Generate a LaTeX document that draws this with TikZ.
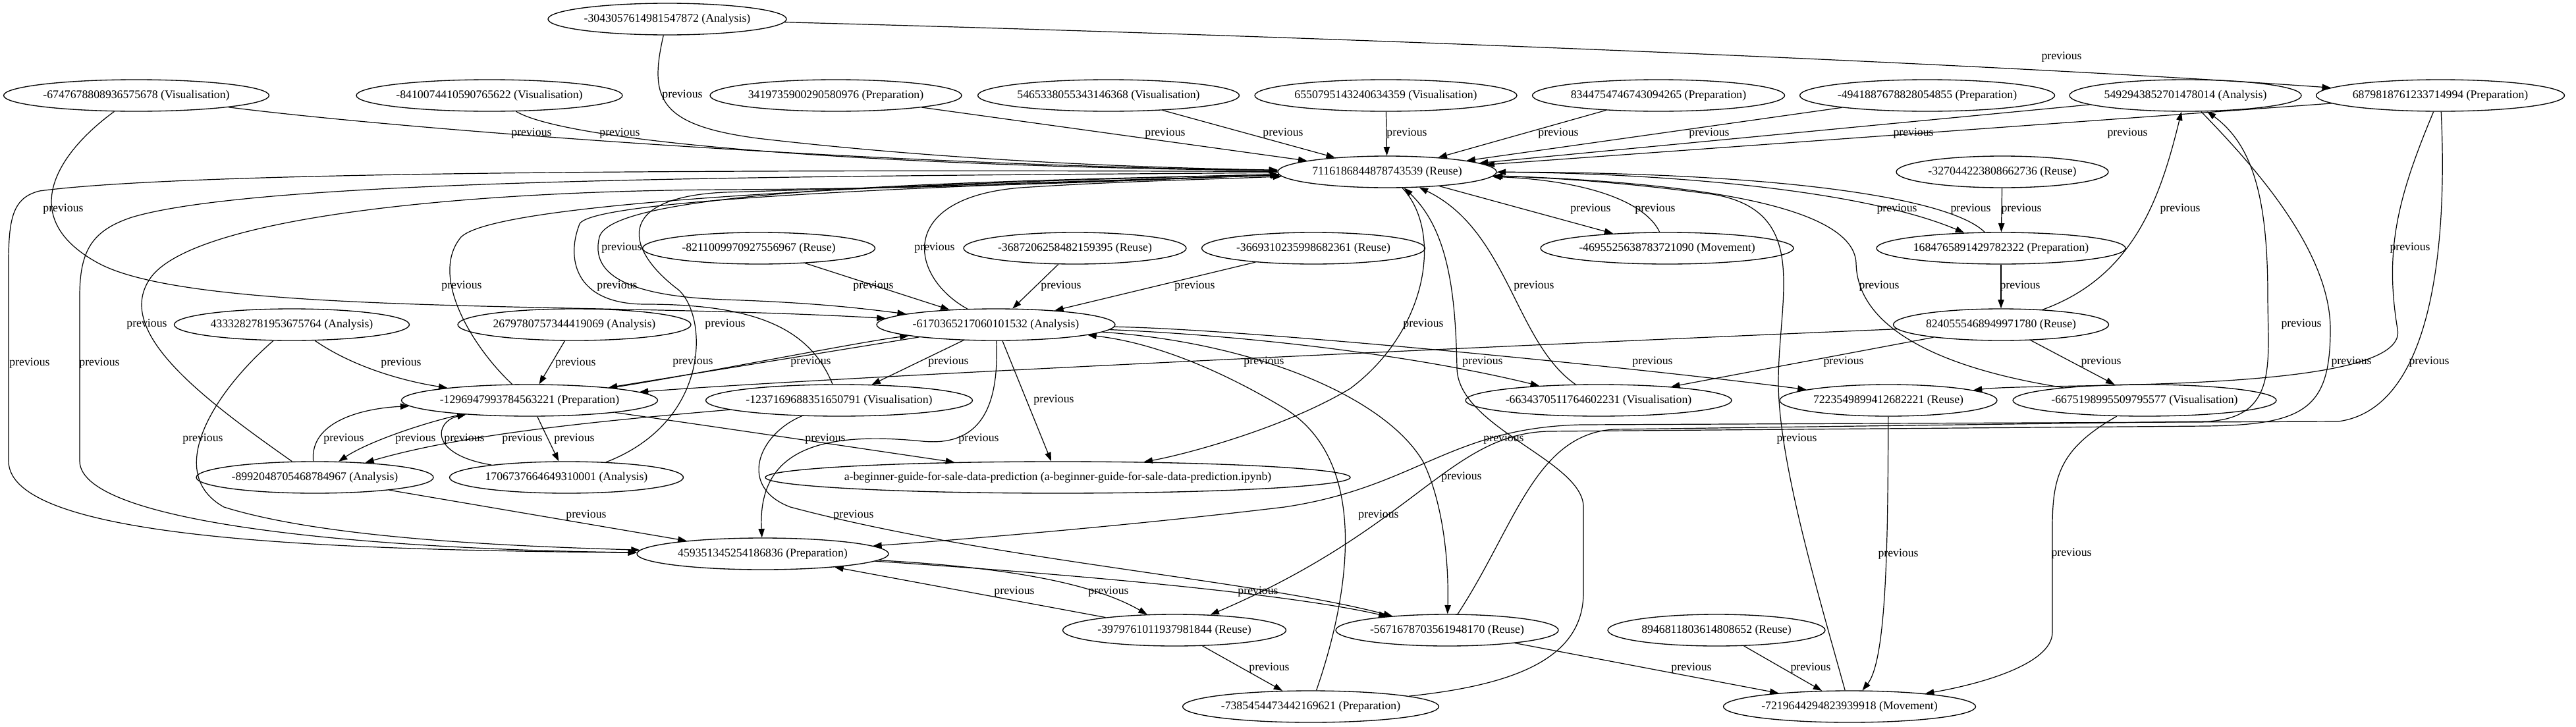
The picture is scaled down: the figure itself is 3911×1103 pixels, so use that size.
\documentclass[tikz,border=0pt]{standalone}
\usepackage{fontspec}
\setmainfont{Liberation Serif}
\usetikzlibrary{shapes.geometric,arrows.meta}
\newcommand\gvf{\fontsize{13.3pt}{15pt}\selectfont}
\begin{document}
\begin{tikzpicture}[x=0.75pt,y=-0.75pt,
  nd/.style={ellipse, draw, line width=1pt, inner xsep=-40pt, inner ysep=-8pt, minimum height=36pt, font=\gvf},
  nw/.style={minimum width=#1*0.75pt},
  ed/.style={-{Triangle[length=10pt,width=7pt]}, line width=0.9pt},
  lbl/.style={font=\gvf, inner sep=0pt}]
\useasboundingbox (0,0) rectangle (3911,1103);
% nodes
\node[nd,nw=362] (m3043) at (1013,29) {-3043057614981547872 (Analysis)};
\node[nd,nw=403] (m6747) at (207,145) {-6747678808936575678 (Visualisation)};
\node[nd,nw=404] (m8410) at (743,145) {-8410074410590765622 (Visualisation)};
\node[nd,nw=382] (n3419) at (1269,145) {3419735900290580976 (Preparation)};
\node[nd,nw=397] (n5465) at (1683,145) {5465338055343146368 (Visualisation)};
\node[nd,nw=398] (n6550) at (2104,145) {6550795143240634359 (Visualisation)};
\node[nd,nw=383] (n8344) at (2518,145) {8344754746743094265 (Preparation)};
\node[nd,nw=387] (m4941) at (2926,145) {-4941887678828054855 (Preparation)};
\node[nd,nw=352] (n5492) at (3318,145) {5492943852701478014 (Analysis)};
\node[nd,nw=377] (n6879) at (3705,145) {6879818761233714994 (Preparation)};
\node[nd,nw=332] (n7116) at (2106,261) {7116186844878743539 (Reuse)};
\node[nd,nw=322] (m3270) at (3040,261) {-327044223808662736 (Reuse)};
\node[nd,nw=353] (m8211) at (1152,377) {-8211009970927556967 (Reuse)};
\node[nd,nw=338] (m3687) at (1632,377) {-3687206258482159395 (Reuse)};
\node[nd,nw=339] (m3669) at (1994,377) {-3669310235998682361 (Reuse)};
\node[nd,nw=384] (m4695) at (2531,377) {-4695525638783721090 (Movement)};
\node[nd,nw=378] (n1684) at (3038,377) {1684765891429782322 (Preparation)};
\node[nd,nw=357] (n4333) at (443,493) {4333282781953675764 (Analysis)};
\node[nd,nw=354] (n2679) at (872,493) {2679780757344419069 (Analysis)};
\node[nd,nw=362] (m6170) at (1512,493) {-6170365217060101532 (Analysis)};
\node[nd,nw=327] (n8240) at (3038,493) {8240555468949971780 (Reuse)};
\node[nd,nw=389] (m1296) at (804,608) {-1296947993784563221 (Preparation)};
\node[nd,nw=405] (m1237) at (1274,608) {-1237169688351650791 (Visualisation)};
\node[nd,nw=404] (m6634) at (2427,608) {-6634370511764602231 (Visualisation)};
\node[nd,nw=330] (n7223) at (2867,608) {7223549899412682221 (Reuse)};
\node[nd,nw=400] (m6675) at (3256,608) {-6675198995509795577 (Visualisation)};
\node[nd,nw=360] (m8992) at (478,725) {-8992048705468784967 (Analysis)};
\node[nd,nw=355] (n1706) at (860,725) {1706737664649310001 (Analysis)};
\node[nd,nw=888] (abg) at (1606,725) {a-beginner-guide-for-sale-data-prediction (a-beginner-guide-for-sale-data-prediction.ipynb)};
\node[nd,nw=382] (n4593) at (1158,841) {459351345254186836 (Preparation)};
\node[nd,nw=339] (m3979) at (1783,957) {-3979761011937981844 (Reuse)};
\node[nd,nw=338] (m5671) at (2197,957) {-5671678703561948170 (Reuse)};
\node[nd,nw=330] (n8946) at (2606,957) {8946811803614808652 (Reuse)};
\node[nd,nw=389] (m7385) at (1990,1073) {-7385454473442169621 (Preparation)};
\node[nd,nw=383] (m7219) at (2808,1073) {-7219644294823939918 (Movement)};
% edges
\draw[ed] (m3043) .. controls (985,150) and (1000,190) .. (1150,210) .. controls (1450,245) and (1750,255) .. (n7116);
\draw[ed] (m3043) .. controls (2000,55) and (3000,95) .. (n6879);
\draw[ed] (m6747) .. controls (600,195) and (1300,250) .. (n7116);
\draw[ed] (m8410) .. controls (860,215) and (1300,252) .. (n7116);
\draw[ed] (n3419) -- (n7116);
\draw[ed] (n5465) -- (n7116);
\draw[ed] (n6550) -- (n7116);
\draw[ed] (n8344) -- (n7116);
\draw[ed] (m4941) -- (n7116);
\draw[ed] (n5492) -- (n7116);
\draw[ed] (n6879) -- (n7116);
\draw[ed] (n7116) -- (m4695);
\draw[ed] (m4695) .. controls (2500,310) and (2420,275) .. (n7116);
\draw[ed] (n7116) .. controls (2500,262) and (2820,285) .. (n1684);
\draw[ed] (n1684) .. controls (2960,300) and (2700,262) .. (n7116);
\draw[ed] (m3270) -- (n1684);
\draw[ed] (n1684) -- (n8240);
\draw[ed] (n8240) .. controls (3240,420) and (3280,300) .. (n5492);
\draw[ed] (m6747) .. controls (90,230) and (20,330) .. (150,400) .. controls (300,480) and (900,458) .. (m6170);
\draw[ed] (n7116) .. controls (1500,275) and (930,285) .. (910,360) .. controls (895,420) and (960,450) .. (1100,455) .. controls (1250,460) and (1320,470) .. (m6170);
\draw[ed] (m6170) .. controls (1380,420) and (1360,300) .. (1550,285) .. controls (1700,275) and (1850,272) .. (n7116);
\draw[ed] (m1237) .. controls (1230,500) and (1150,462) .. (980,462) .. controls (870,462) and (860,390) .. (880,340) .. controls (900,300) and (1500,280) .. (n7116);
\draw[ed] (m1296) .. controls (720,530) and (650,420) .. (700,360) .. controls (760,300) and (1500,275) .. (n7116);
\draw[ed] (m8211) -- (m6170);
\draw[ed] (m3687) -- (m6170);
\draw[ed] (m3669) -- (m6170);
\draw[ed] (m6634) .. controls (2300,520) and (2290,350) .. (n7116);
\draw[ed] (m6675) .. controls (2950,560) and (2820,500) .. (2818,400) .. controls (2815,300) and (2500,275) .. (n7116);
\draw[ed] (n6879) .. controls (3640,300) and (3620,380) .. (3640,500) .. controls (3660,600) and (3100,580) .. (n7223);
\draw[ed] (m8992) .. controls (300,600) and (170,500) .. (230,420) .. controls (300,330) and (700,290) .. (1100,288) .. controls (1500,286) and (1800,270) .. (n7116);
\draw[ed] (n1706) .. controls (1080,640) and (1075,480) .. (1030,440) .. controls (950,380) and (930,300) .. (1100,292) .. controls (1500,280) and (1800,270) .. (n7116);
\draw[ed] (n7116) .. controls (2190,350) and (2170,500) .. (2050,590) .. controls (1950,650) and (1800,690) .. (abg);
\draw[ed] (m5671) .. controls (2300,800) and (2330,660) .. (2450,652) -- (3350,640) .. controls (3460,635) and (3443,550) .. (3443,450) .. controls (3443,300) and (3420,220) .. (n5492);
\draw[ed] (n7116) .. controls (1200,258) and (300,258) .. (60,290) .. controls (20,300) and (13,330) .. (13,400) -- (13,700) .. controls (13,820) and (500,835) .. (n4593);
\draw[ed] (n7116) .. controls (1200,268) and (400,270) .. (200,330) .. controls (140,350) and (121,380) .. (121,450) -- (121,700) .. controls (121,800) and (600,835) .. (n4593);
\draw[ed] (n4333) .. controls (540,560) and (620,580) .. (m1296);
\draw[ed] (n2679) -- (m1296);
\draw[ed] (m6170) -- (m1296);
\draw[ed] (m1296) .. controls (1050,570) and (1300,520) .. (m6170);
\draw[ed] (m6170) -- (m1237);
\draw[ed] (n8240) .. controls (2400,520) and (1300,570) .. (m1296);
\draw[ed] (m6170) .. controls (1900,510) and (2150,540) .. (m6634);
\draw[ed] (m6170) .. controls (1900,500) and (2500,560) .. (n7223);
\draw[ed] (n8240) -- (m6634);
\draw[ed] (n8240) -- (m6675);
\draw[ed] (n5492) .. controls (3420,250) and (3538,380) .. (3538,500) .. controls (3538,620) and (3500,645) .. (3350,647) -- (2350,655) .. controls (2200,660) and (2150,800) .. (m3979);
\draw[ed] (n6879) .. controls (3715,350) and (3700,620) .. (3550,640) -- (2400,645) .. controls (2200,650) and (2150,740) .. (1950,770) .. controls (1700,800) and (1450,820) .. (n4593);
\draw[ed] (m6170) -- (abg);
\draw[ed] (n4333) .. controls (320,600) and (250,720) .. (340,770) .. controls (500,820) and (800,830) .. (n4593);
\draw[ed] (m8992) .. controls (470,640) and (550,620) .. (m1296);
\draw[ed] (m1296) .. controls (650,640) and (560,670) .. (m8992);
\draw[ed] (n1706) .. controls (650,690) and (660,640) .. (m1296);
\draw[ed] (m1237) .. controls (900,640) and (700,660) .. (m8992);
\draw[ed] (m1296) -- (n1706);
\draw[ed] (m1296) .. controls (1100,650) and (1300,680) .. (abg);
\draw[ed] (m6170) .. controls (1516,600) and (1500,680) .. (1400,670) .. controls (1250,655) and (1150,680) .. (n4593);
\draw[ed] (m7219) .. controls (2760,900) and (2700,700) .. (2700,580) .. controls (2700,450) and (2750,320) .. (2600,295) .. controls (2450,275) and (2350,270) .. (n7116);
\draw[ed] (m6170) .. controls (1900,520) and (2100,600) .. (2160,700) .. controls (2190,760) and (2200,850) .. (m5671);
\draw[ed] (m8992) -- (n4593);
\draw[ed] (m1237) .. controls (1150,660) and (1120,740) .. (1200,770) .. controls (1500,850) and (1900,880) .. (m5671);
\draw[ed] (m7385) .. controls (2050,900) and (2080,700) .. (1950,620) .. controls (1850,560) and (1750,520) .. (m6170);
\draw[ed] (m7385) .. controls (2300,1040) and (2404,1000) .. (2404,900) -- (2404,770) .. controls (2404,700) and (2215,650) .. (2212,560) .. controls (2210,450) and (2200,350) .. (n7116);
\draw[ed] (n7223) .. controls (2866,800) and (2866,1000) .. (m7219);
\draw[ed] (m6675) .. controls (3130,680) and (3116,720) .. (3116,800) -- (3116,960) .. controls (3116,1010) and (3000,1040) .. (m7219);
\draw[ed] (m3979) -- (n4593);
\draw[ed] (n4593) .. controls (1500,860) and (1650,880) .. (m3979);
\draw[ed] (n4593) .. controls (1600,870) and (1950,900) .. (m5671);
\draw[ed] (m3979) -- (m7385);
\draw[ed] (m5671) -- (m7219);
\draw[ed] (n8946) -- (m7219);
% labels
\foreach \i/\x/\y in {1/1036/145, 2/3130/87, 3/807/203, 4/941/203, 5/1769/203, 6/1948/203, 7/2136/203, 8/2366/203, 9/2595/203, 10/2905/203, 11/3230/203, 12/2415/318, 13/2513/318, 14/2880/318, 15/2992/318, 16/3069/318, 17/3310/318, 18/96/318, 19/944/377, 20/1419/377, 21/937/435, 22/701/435, 23/1326/435, 24/1611/435, 25/1814/435, 26/2329/435, 27/2853/435, 28/3067/435, 29/3659/377, 30/223/493, 31/1101/493, 32/2161/493, 33/3494/493, 34/45/552, 35/151/552, 36/609/552, 37/874/552, 38/1052/550, 39/1231/550, 40/1440/550, 41/1919/550, 42/2251/550, 43/2509/550, 44/2799/550, 45/3190/550, 46/3570/550, 47/3688/550, 48/1600/608, 49/308/667, 50/522/667, 51/631/667, 52/705/667, 53/793/667, 54/872/667, 55/1253/667, 56/1486/667, 57/2283/667, 58/2728/667, 59/2219/725, 60/890/783, 61/1296/783, 62/2093/783, 63/2882/842, 64/3145/841, 65/1540/899, 66/1683/899, 67/1910/899, 68/1927/1015, 69/2568/1015, 70/2749/1015}
  \node[lbl] (L\i) at (\x,\y) {previous};
\end{tikzpicture}
\end{document}
